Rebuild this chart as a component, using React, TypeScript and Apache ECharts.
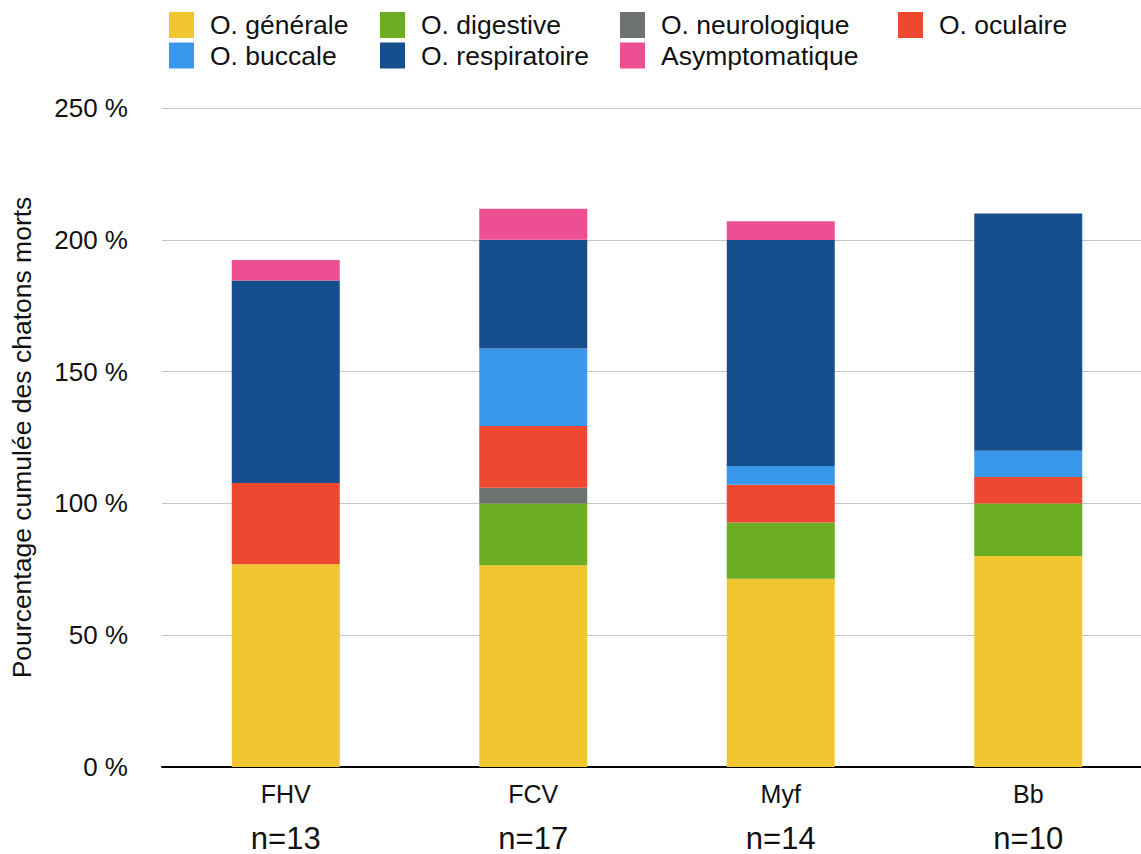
import React, { useEffect, useRef } from "react";
import * as echarts from "echarts";

const categories = ["FHV", "FCV", "Myf", "Bb"];
const counts = ["n=13", "n=17", "n=14", "n=10"];
const seriesNames = [
  "O. générale",
  "O. digestive",
  "O. neurologique",
  "O. oculaire",
  "O. buccale",
  "O. respiratoire",
  "Asymptomatique",
];
const generale = [76.9, 76.5, 71.4, 80];
const digestive = [0, 23.5, 21.4, 20];
const neurologique = [0, 5.9, 0, 0];
const oculaire = [30.8, 23.5, 14.3, 10];
const buccale = [0, 29.4, 7.1, 10];
const respiratoire = [76.9, 41.2, 85.7, 90];
const asymptomatique = [7.7, 11.8, 7.1, 0];
const yTicks = [0, 50, 100, 150, 200, 250];

const colors = ["#F0C631", "#6BAE23", "#6E7371", "#EE4830", "#3A98EC", "#174E8E", "#EC5092"];
const values = [generale, digestive, neurologique, oculaire, buccale, respiratoire, asymptomatique];

const FONT = "Liberation Sans, Arial, Helvetica, sans-serif";

export default function App() {
  const ref = useRef<HTMLDivElement>(null);
  useEffect(() => {
    if (!ref.current) return;
    const chart = echarts.init(ref.current, null, { renderer: "svg" });
    const legendPos = [
      [169, 11.5],
      [380, 11.5],
      [620, 11.5],
      [898, 11.5],
      [169, 42],
      [380, 42],
      [620, 42],
    ];
    const legends = seriesNames.map((name, i) => ({
      data: [name],
      left: legendPos[i][0],
      top: legendPos[i][1],
      padding: 0,
      itemWidth: 25,
      itemHeight: 26,
      itemGap: 0,
      icon: "rect",
      selectedMode: false,
      textStyle: { fontSize: 26.5, color: "#111", fontFamily: FONT, padding: [0, 0, 0, 11] },
    }));
    chart.setOption({
      animation: false,
      color: colors,
      legend: legends,
      grid: { left: 162, top: 108, width: 990, height: 659, containLabel: false },
      xAxis: {
        type: "category",
        data: categories,
        axisLine: { lineStyle: { color: "#000", width: 2 } },
        axisTick: { show: false },
        axisLabel: {
          margin: 5,
          formatter: (v: string, idx: number) => `{a|${v}}\n{b|${counts[idx]}}`,
          rich: {
            a: { fontSize: 25, lineHeight: 44, color: "#111", fontFamily: FONT },
            b: { fontSize: 31, lineHeight: 44, color: "#111", fontFamily: FONT },
          },
        },
      },
      yAxis: {
        type: "value",
        min: yTicks[0],
        max: yTicks[yTicks.length - 1],
        interval: 50,
        name: "Pourcentage cumulée des chatons morts",
        nameLocation: "middle",
        nameGap: 127,
        nameTextStyle: { fontSize: 26.5, color: "#111", fontFamily: FONT },
        axisLine: { show: false },
        axisTick: { show: false },
        axisLabel: {
          margin: 34,
          fontSize: 26,
          color: "#111",
          fontFamily: FONT,
          formatter: (v: number) => `${v} %`,
        },
        splitLine: { lineStyle: { color: "#C4C4C4", width: 1.2 } },
      },
      series: seriesNames.map((name, i) => ({
        name,
        type: "bar",
        stack: "total",
        data: values[i],
        barWidth: 108,
        itemStyle: { color: colors[i] },
      })),
    });
    return () => chart.dispose();
  }, []);
  return (
    <div
      style={{ position: "absolute", left: 0, top: 0, width: 1141, height: 854, overflow: "hidden", background: "#fff" }}
    >
      <div ref={ref} style={{ width: 1170, height: 854 }} />
    </div>
  );
}
